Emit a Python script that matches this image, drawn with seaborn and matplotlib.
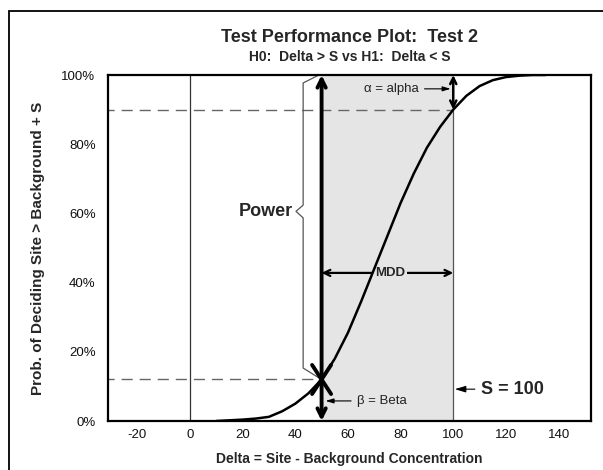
import numpy as np
import pandas as pd
import seaborn as sns
import matplotlib.pyplot as plt
from matplotlib.patches import Rectangle

# Values
delta = [10, 15, 20, 25, 30, 35, 40, 45, 50, 55, 60, 65, 70,
         75, 80, 85, 90, 95, 100, 105, 110, 115, 120, 125, 130, 135]
prob = [0.0, 0.002, 0.004, 0.007, 0.012, 0.028, 0.05, 0.08, 0.12, 0.18, 0.255, 0.345, 0.44,
        0.535, 0.63, 0.715, 0.79, 0.85, 0.90, 0.94, 0.968, 0.985, 0.994, 0.998, 1.0, 1.0]

x_ticks = [-20, 0, 20, 40, 60, 80, 100, 120, 140]
y_ticks = [0, 0.2, 0.4, 0.6, 0.8, 1.0]
y_tick_labels = ['0%', '20%', '40%', '60%', '80%', '100%']

S = 100          # action level
mdd_low = 50     # lower bound of gray region
alpha_level = 0.90
beta_level = 0.12

sns.set_style('white')
plt.rcParams['font.family'] = ['Liberation Sans', 'DejaVu Sans']
plt.rcParams['axes.unicode_minus'] = False

fig = plt.figure(figsize=(6.03, 4.70), dpi=100)
ax = fig.add_axes([108 / 603, 1 - 421 / 470, (591 - 108) / 603, (421 - 75) / 470])

# outer frame of the figure
fig.patches.append(Rectangle((9 / 603, -0.2), 1.2, 1 - 11 / 470 + 0.2,
                             transform=fig.transFigure, fill=False,
                             edgecolor='black', linewidth=1.3))

df = pd.DataFrame({'delta': delta, 'prob': prob})

# gray MDD region
ax.axvspan(mdd_low, S, color='#e5e5e5', zorder=0, lw=0)
ax.plot([S, S], [0, alpha_level], color='#555555', lw=0.9, zorder=1)
ax.axvline(0, color='#333333', lw=0.9, zorder=1)

# dashed reference lines
ax.plot([-40, S], [alpha_level, alpha_level], color='#666666', lw=1.0,
        ls=(0, (8, 5)), zorder=1)
ax.plot([-40, mdd_low], [beta_level, beta_level], color='#666666', lw=1.0,
        ls=(0, (8, 5)), zorder=1)

sns.lineplot(data=df, x='delta', y='prob', ax=ax, color='black', lw=1.8, zorder=3)

# power bracket
ax.plot([49, 43, 43, 40.3, 43, 43, 50],
        [1.0, 0.977, 0.624, 0.606, 0.587, 0.153, beta_level],
        color='#555555', lw=0.9, zorder=2)
ax.text(39, 0.606, 'Power', ha='right', va='center', fontsize=13, fontweight='bold')

# thick power / beta arrow
ax.annotate('', xy=(mdd_low, 1.0), xytext=(mdd_low, 0.0),
            arrowprops=dict(arrowstyle='<->, head_length=0.6, head_width=0.3',
                            lw=2.8, color='black', shrinkA=0, shrinkB=0), zorder=4)
ax.plot([46.4, 53.6], [0.162, 0.078], color='black', lw=2.8, zorder=4)
ax.plot([46.4, 53.6], [0.078, 0.162], color='black', lw=2.8, zorder=4)

# alpha arrow
ax.annotate('', xy=(S, 1.0), xytext=(S, alpha_level),
            arrowprops=dict(arrowstyle='<->, head_length=0.45, head_width=0.22',
                            lw=1.8, color='black', shrinkA=0, shrinkB=0), zorder=4)
ax.annotate('α = alpha', xy=(99, 0.96), xytext=(66, 0.96),
            va='center', fontsize=9.5, color='#222222',
            arrowprops=dict(arrowstyle='-|>, head_length=0.5, head_width=0.15',
                            lw=0.8, color='black', shrinkA=2, shrinkB=0))

# MDD arrow
ax.annotate('', xy=(S, 0.428), xytext=(mdd_low, 0.428),
            arrowprops=dict(arrowstyle='<->, head_length=0.45, head_width=0.22',
                            lw=1.6, color='black', shrinkA=0, shrinkB=0), zorder=2)
ax.text(76, 0.428, 'MDD', ha='center', va='center', fontsize=9.5, fontweight='bold',
        bbox=dict(facecolor='#e5e5e5', edgecolor='none', pad=1.5), zorder=2)

# beta label
ax.annotate('β = Beta', xy=(51.5, 0.058), xytext=(63.5, 0.058),
            va='center', fontsize=9.5, color='#222222',
            arrowprops=dict(arrowstyle='-|>, head_length=0.5, head_width=0.15',
                            lw=0.8, color='black', shrinkA=2, shrinkB=0))

# S label
ax.annotate('S = 100', xy=(100.6, 0.092), xytext=(110.5, 0.092),
            va='center', fontsize=13, fontweight='bold',
            arrowprops=dict(arrowstyle='-|>, head_length=0.5, head_width=0.15',
                            lw=0.8, color='black', shrinkA=2, shrinkB=0))

ax.set_xlim(-31.1, 152.3)
ax.set_ylim(0, 1)
ax.set_xticks(x_ticks)
ax.set_yticks(y_ticks)
ax.set_yticklabels(y_tick_labels)
ax.tick_params(direction='in', length=6, width=0.9, color='black',
               labelsize=9.5, labelcolor='#111111', pad=6)
ax.tick_params(axis='y', pad=9)
for sp in ax.spines.values():
    sp.set_linewidth(1.6)
    sp.set_color('black')

ax.set_xlabel('Delta = Site - Background Concentration', fontsize=10,
              fontweight='bold', labelpad=8)
ax.set_ylabel('Prob. of Deciding Site > Background + S', fontsize=11,
              fontweight='bold', labelpad=12)

fig.text(0.58, 1 - 38 / 470, 'Test Performance Plot:  Test 2', ha='center',
         va='center', fontsize=13, fontweight='bold')
fig.text(0.58, 1 - 57 / 470, 'H0:  Delta > S vs H1:  Delta < S', ha='center',
         va='center', fontsize=10, fontweight='bold')

fig.savefig('out.png', dpi=100)
